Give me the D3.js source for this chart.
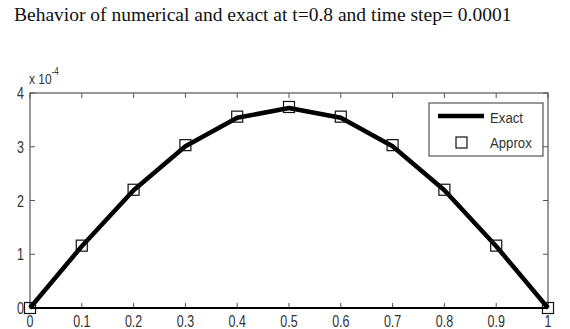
<!DOCTYPE html>
<html>
<head>
<meta charset="utf-8">
<script src="https://cdn.jsdelivr.net/npm/d3@7"></script>
<style>
  html, body { margin: 0; padding: 0; background: #fff; }
  svg { display: block; }
</style>
</head>
<body>
<div id="chart"></div>
<script>
// values (y in units of 1e-4)
const xs      = [0, 0.1, 0.2, 0.3, 0.4, 0.5, 0.6, 0.7, 0.8, 0.9, 1.0];
const exact   = [0, 1.15, 2.19, 3.01, 3.54, 3.72, 3.54, 3.01, 2.19, 1.15, 0];
const approx  = [0, 1.16, 2.20, 3.03, 3.56, 3.74, 3.56, 3.03, 2.20, 1.16, 0];
const xTicks  = [0, 0.1, 0.2, 0.3, 0.4, 0.5, 0.6, 0.7, 0.8, 0.9, 1];
const yTicks  = [0, 1, 2, 3, 4];
const names   = ['Exact', 'Approx'];

const W = 570, H = 329;
const m = { left: 30, right: 22, top: 93, bottom: 21 };

const svg = d3.select('#chart').append('svg').attr('width', W).attr('height', H);

const x = d3.scaleLinear().domain([0, 1]).range([m.left, W - m.right]);
const y = d3.scaleLinear().domain([0, 4]).range([H - m.bottom, m.top]);

const tickFont = "'Liberation Sans', Arial, sans-serif";
const axisGray = '#555';

// narrow text like the original screenshot font
function narrowText(g, tx, ty, str, size, anchor, sx) {
  return g.append('text')
    .attr('transform', `translate(${tx},${ty}) scale(${sx},1)`)
    .attr('text-anchor', anchor)
    .attr('font-family', tickFont).attr('font-size', size).attr('fill', '#333')
    .text(str);
}

// title
svg.append('text')
  .attr('x', 14).attr('y', 21)
  .attr('font-family', "'Liberation Serif', 'Times New Roman', serif")
  .attr('font-size', 19.5)
  .attr('fill', '#111')
  .text('Behavior of numerical and exact at t=0.8 and time step= 0.0001');

// box
const x0 = x(0), x1 = x(1), y0 = y(0), y1 = y(4);
svg.append('rect')
  .attr('x', x0).attr('y', y1).attr('width', x1 - x0).attr('height', y0 - y1)
  .attr('fill', 'none').attr('stroke', axisGray).attr('stroke-width', 1.2);

// ticks (inward, mirrored on top and right)
const tl = 5;
const tg = svg.append('g').attr('stroke', axisGray).attr('stroke-width', 1);
xTicks.forEach(t => {
  tg.append('line').attr('x1', x(t)).attr('x2', x(t)).attr('y1', y0).attr('y2', y0 - tl);
  tg.append('line').attr('x1', x(t)).attr('x2', x(t)).attr('y1', y1).attr('y2', y1 + tl);
});
yTicks.forEach(t => {
  tg.append('line').attr('x1', x0).attr('x2', x0 + tl).attr('y1', y(t)).attr('y2', y(t));
  tg.append('line').attr('x1', x1).attr('x2', x1 - tl).attr('y1', y(t)).attr('y2', y(t));
});

// bottom axis drawn darker
svg.append('line')
  .attr('x1', x0).attr('x2', x1).attr('y1', y0).attr('y2', y0)
  .attr('stroke', '#000').attr('stroke-width', 2);

// tick labels
const xl = svg.append('g');
xTicks.forEach(t => narrowText(xl, x(t), y0 + 19, d3.format('')(t), 16, 'middle', 0.78));
const yl = svg.append('g');
yTicks.forEach(t => narrowText(yl, x0 - 6, y(t) + 6, t, 16, 'end', 0.78));

// exponent
const ex = svg.append('text')
  .attr('transform', 'translate(29,84) scale(0.8,1)')
  .attr('font-family', tickFont).attr('font-size', 15).attr('fill', '#333');
ex.append('tspan').text('x 10');
ex.append('tspan').attr('dy', -9).attr('font-size', 10).text('-4');

// exact line
const line = d3.line().x((d, i) => x(xs[i])).y(d => y(d));
svg.append('path')
  .datum(exact)
  .attr('d', line)
  .attr('fill', 'none').attr('stroke', '#000').attr('stroke-width', 4.5)
  .attr('stroke-linejoin', 'round');

// approx squares
const sq = 11;
svg.append('g').selectAll('rect').data(approx).enter().append('rect')
  .attr('x', (d, i) => x(xs[i]) - sq / 2)
  .attr('y', d => y(d) - sq / 2)
  .attr('width', sq).attr('height', sq)
  .attr('fill', 'none').attr('stroke', '#111').attr('stroke-width', 1.2);

// legend
const lg = svg.append('g');
lg.append('rect')
  .attr('x', 429).attr('y', 103).attr('width', 114).attr('height', 53)
  .attr('fill', '#fff').attr('stroke', '#333').attr('stroke-width', 1);
lg.append('line')
  .attr('x1', 438).attr('x2', 484).attr('y1', 116).attr('y2', 116)
  .attr('stroke', '#000').attr('stroke-width', 4.5);
lg.append('rect')
  .attr('x', 456).attr('y', 137).attr('width', 11).attr('height', 11)
  .attr('fill', 'none').attr('stroke', '#111').attr('stroke-width', 1.2);
names.forEach((n, i) => narrowText(lg, 490, 123 + i * 25, n, 15, 'start', 0.88));
</script>
</body>
</html>
